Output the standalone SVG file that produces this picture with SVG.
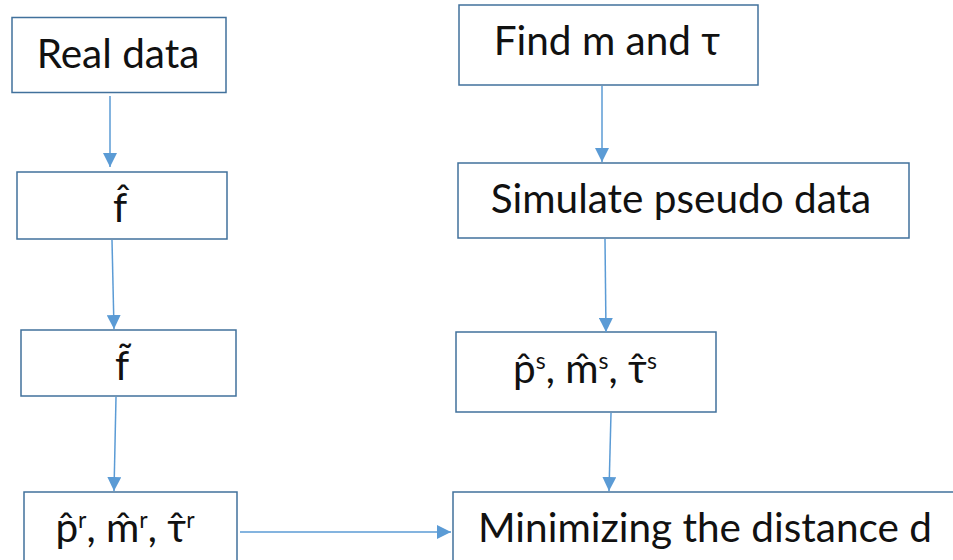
<svg xmlns="http://www.w3.org/2000/svg" width="953" height="560" viewBox="0 0 953 560">
<style>
.box{fill:#fff;stroke:#41719C;stroke-width:1.5}
.lbl{font-family:Lato,"Open Sans","Liberation Sans",sans-serif;font-size:40.5px;fill:#111;text-anchor:middle}
.sup{font-size:23px}
.con line{stroke:#5B9BD5;stroke-width:1.5;fill:none}
</style>
<defs>
<marker id="ah2" viewBox="0 0 10 10" refX="10" refY="5" markerWidth="14" markerHeight="14" markerUnits="userSpaceOnUse" orient="auto"><path d="M0,0 L10,5 L0,10 z" fill="#5B9BD5"/></marker>
</defs>
<rect width="953" height="560" fill="#fff"/>
<g id="real">
<rect class="box" x="12" y="17.5" width="214" height="75"/>
<text class="lbl" x="118" y="68">Real data</text>
</g>
<g id="fhat">
<rect class="box" x="17" y="172" width="210" height="67"/>
<text class="lbl" x="120" y="222">f̂</text>
</g>
<g id="ftilde">
<rect class="box" x="21" y="330" width="215" height="66"/>
<text class="lbl" x="122" y="380">f̃</text>
</g>
<g id="preal">
<rect class="box" x="24" y="492" width="213" height="80"/>
<text class="lbl" x="125" y="542">p̂<tspan class="sup" dy="-14">r</tspan><tspan dy="14">, m̂</tspan><tspan class="sup" dy="-14">r</tspan><tspan dy="14">, τ̂</tspan><tspan class="sup" dy="-14">r</tspan></text>
</g>
<g id="find">
<rect class="box" x="459" y="5" width="299" height="80"/>
<text class="lbl" x="607" y="55">Find m and τ</text>
</g>
<g id="simulate">
<rect class="box" x="458" y="163" width="451" height="75"/>
<text class="lbl" x="681" y="213">Simulate pseudo data</text>
</g>
<g id="psim">
<rect class="box" x="456" y="332" width="260" height="80"/>
<text class="lbl" x="585" y="383">p̂<tspan class="sup" dy="-14">s</tspan><tspan dy="14">, m̂</tspan><tspan class="sup" dy="-14">s</tspan><tspan dy="14">, τ̂</tspan><tspan class="sup" dy="-14">s</tspan></text>
</g>
<g id="minimize">
<rect class="box" x="453" y="492" width="510" height="80"/>
<text class="lbl" x="705" y="542">Minimizing the distance d</text>
</g>
<g id="connectors" class="con">
<line x1="110" y1="96" x2="110" y2="167" marker-end="url(#ah2)"/>
<line x1="112" y1="240" x2="114" y2="329" marker-end="url(#ah2)"/>
<line x1="116" y1="397" x2="114" y2="491" marker-end="url(#ah2)"/>
<line x1="240" y1="532" x2="451" y2="532" marker-end="url(#ah2)"/>
<line x1="602" y1="86" x2="602" y2="162" marker-end="url(#ah2)"/>
<line x1="605" y1="239" x2="606" y2="332" marker-end="url(#ah2)"/>
<line x1="611" y1="413" x2="609" y2="491" marker-end="url(#ah2)"/>
</g>
</svg>
